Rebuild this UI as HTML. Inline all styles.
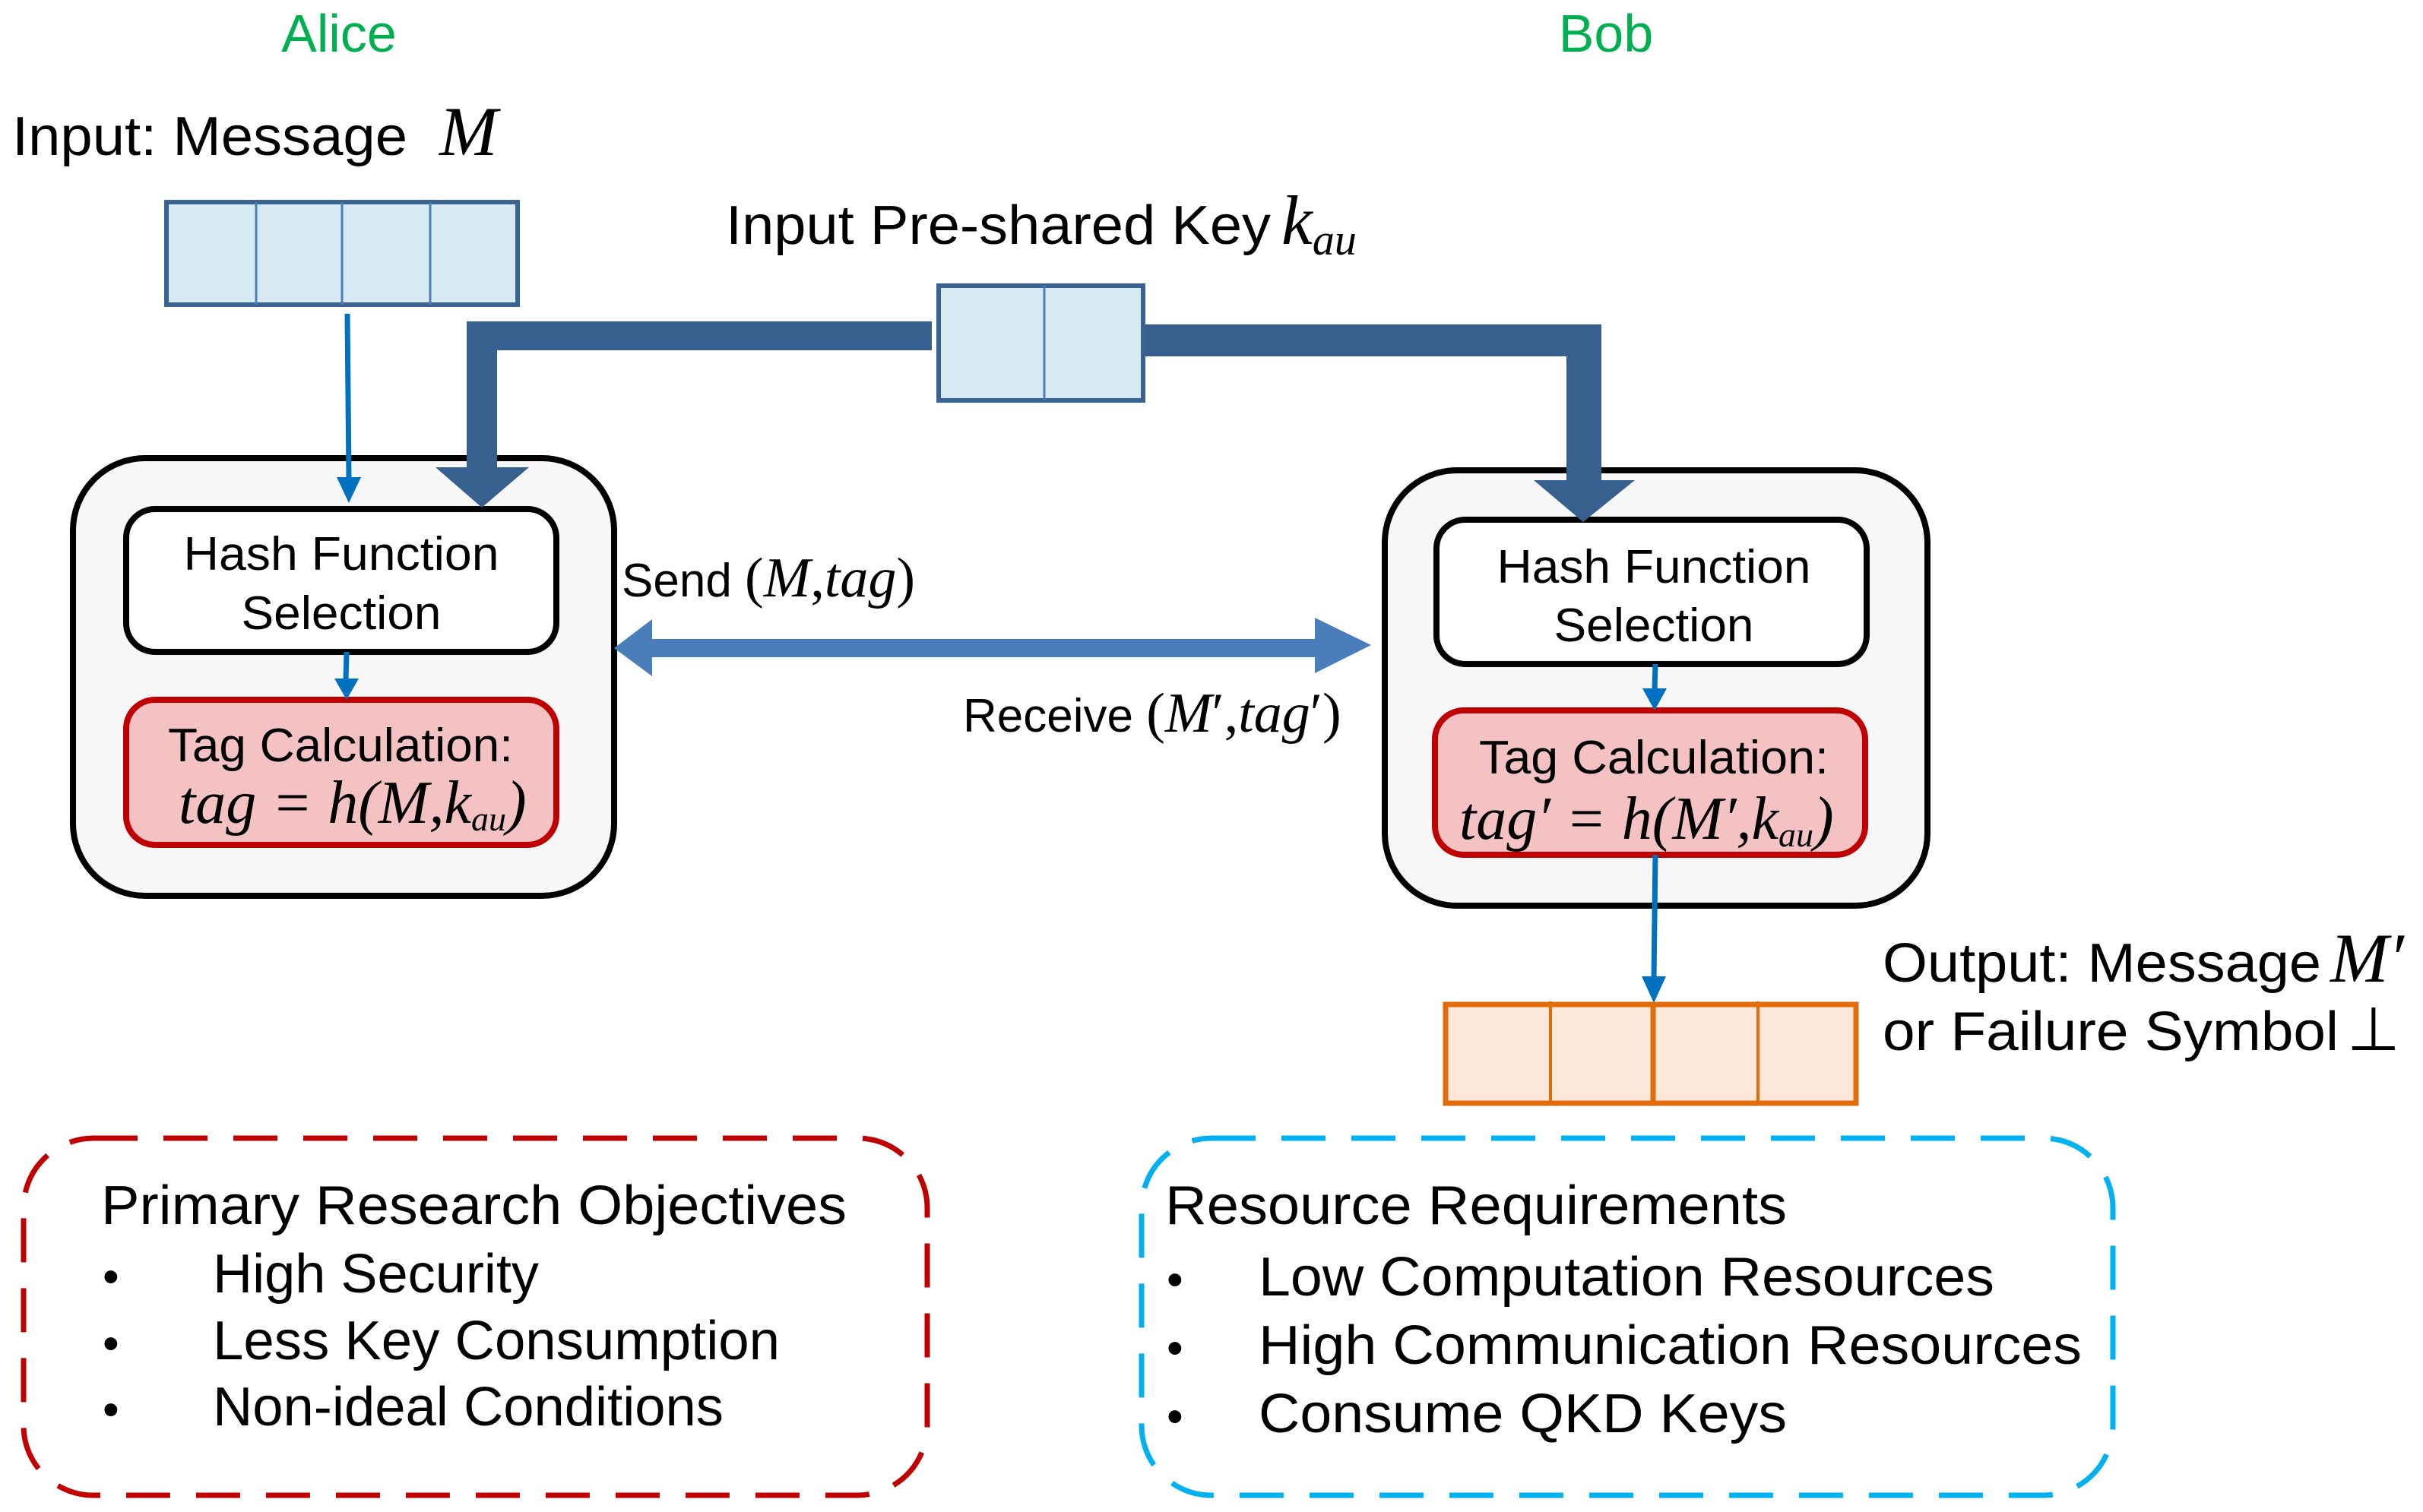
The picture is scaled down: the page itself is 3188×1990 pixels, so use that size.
<!DOCTYPE html>
<html><head><meta charset="utf-8"><style>
html,body{margin:0;padding:0;background:#fff;}
svg{display:block;}
text{font-family:"Liberation Sans",sans-serif;fill:#000;}
.m{font-family:"Liberation Serif",serif;font-style:italic;}
.r{font-family:"Liberation Serif",serif;}
</style></head><body>
<svg width="3188" height="1990" viewBox="0 0 3188 1990" xmlns="http://www.w3.org/2000/svg">
<!-- Titles -->
<text x="446" y="68" font-size="70" style="fill:#00b050" text-anchor="middle">Alice</text>
<text x="2113" y="68" font-size="70" style="fill:#00b050" text-anchor="middle">Bob</text>

<!-- Input message -->
<text x="16" y="204" font-size="72" textLength="520" lengthAdjust="spacingAndGlyphs">Input: Message</text>
<text x="578" y="204" font-size="92" class="m">M</text>
<rect x="219" y="266" width="462" height="135" fill="#d6eaf3" stroke="#3a6394" stroke-width="6"/>
<line x1="337" y1="266" x2="337" y2="401" stroke="#4a7ebb" stroke-width="3"/>
<line x1="450" y1="266" x2="450" y2="401" stroke="#4a7ebb" stroke-width="3"/>
<line x1="566" y1="266" x2="566" y2="401" stroke="#4a7ebb" stroke-width="3"/>

<!-- Pre-shared key -->
<text x="955" y="321" font-size="72" textLength="717" lengthAdjust="spacingAndGlyphs">Input Pre-shared Key</text>
<text x="1686" y="321" font-size="92" class="m">k<tspan font-size="58" dy="14">au</tspan></text>
<rect x="1235" y="376" width="269" height="151" fill="#d6eaf3" stroke="#3a6394" stroke-width="6"/>
<line x1="1374" y1="376" x2="1374" y2="527" stroke="#4a7ebb" stroke-width="3"/>

<!-- Alice box -->
<rect x="96" y="603" width="712" height="576" rx="95" fill="#f7f7f7" stroke="#000" stroke-width="8"/>
<rect x="166" y="670" width="566" height="188" rx="38" fill="#fff" stroke="#000" stroke-width="8"/>
<text x="449" y="750" font-size="62" text-anchor="middle" textLength="415" lengthAdjust="spacingAndGlyphs">Hash Function</text>
<text x="449" y="828" font-size="62" text-anchor="middle" textLength="263" lengthAdjust="spacingAndGlyphs">Selection</text>
<rect x="166" y="921" width="566" height="191" rx="38" fill="#f4c2c2" stroke="#c00000" stroke-width="8"/>
<text x="448" y="1002" font-size="62" text-anchor="middle" textLength="454" lengthAdjust="spacingAndGlyphs">Tag Calculation:</text>
<text x="235" y="1083" font-size="80" class="m">tag<tspan class="r"> =  </tspan>h<tspan class="r">(</tspan>M<tspan class="r">,</tspan>k<tspan font-size="46" dy="10">au</tspan><tspan class="r" dy="-10">)</tspan></text>

<!-- Alice thin arrows -->
<line x1="457" y1="413" x2="459" y2="630" stroke="#0070c0" stroke-width="7"/>
<polygon points="443,628 475,628 459,662" fill="#0070c0"/>
<line x1="456" y1="858" x2="455" y2="895" stroke="#0070c0" stroke-width="7"/>
<polygon points="440,893 472,893 456,921" fill="#0070c0"/>

<!-- Bob box -->
<rect x="1822" y="619" width="714" height="573" rx="95" fill="#f7f7f7" stroke="#000" stroke-width="8"/>
<rect x="1890" y="684" width="566" height="190" rx="38" fill="#fff" stroke="#000" stroke-width="8"/>
<text x="2176" y="767" font-size="62" text-anchor="middle" textLength="413" lengthAdjust="spacingAndGlyphs">Hash Function</text>
<text x="2176" y="844" font-size="62" text-anchor="middle" textLength="263" lengthAdjust="spacingAndGlyphs">Selection</text>
<rect x="1888" y="935" width="566" height="190" rx="38" fill="#f4c2c2" stroke="#c00000" stroke-width="8"/>
<text x="2176" y="1018" font-size="62" text-anchor="middle" textLength="460" lengthAdjust="spacingAndGlyphs">Tag Calculation:</text>
<text x="1920" y="1104" font-size="80" class="m">tag<tspan class="r">′ =  </tspan>h<tspan class="r">(</tspan>M<tspan class="r">′,</tspan>k<tspan font-size="46" dy="10">au</tspan><tspan class="r" dy="-10">)</tspan></text>

<line x1="2178" y1="874" x2="2177" y2="908" stroke="#0070c0" stroke-width="7"/>
<polygon points="2161,906 2193,906 2177,935" fill="#0070c0"/>
<line x1="2178" y1="1125" x2="2176" y2="1290" stroke="#0070c0" stroke-width="7"/>
<polygon points="2160,1285 2192,1285 2176,1320" fill="#0070c0"/>

<!-- thick key lines (on top) -->
<polygon points="1226,423 614,423 614,615 573,615 634,668 696,615 654,615 654,461 1226,461" fill="#37608f"/>
<polygon points="1507,427 2107,427 2107,632 2151,632 2083,687 2018,632 2061,632 2061,469 1507,469" fill="#37608f"/>

<!-- Output box -->
<rect x="1902" y="1322" width="540" height="130" fill="#fce8da" stroke="#e36c0a" stroke-width="7"/>
<line x1="2040" y1="1318" x2="2040" y2="1452" stroke="#e36c0a" stroke-width="4"/>
<line x1="2175" y1="1322" x2="2175" y2="1452" stroke="#e36c0a" stroke-width="7"/>
<line x1="2313" y1="1318" x2="2313" y2="1452" stroke="#e36c0a" stroke-width="4"/>
<text x="2477" y="1292" font-size="72" textLength="577" lengthAdjust="spacingAndGlyphs">Output: Message</text>
<text x="3066" y="1292" font-size="92" class="m">M<tspan class="r">′</tspan></text>
<text x="2477" y="1382" font-size="72" textLength="600" lengthAdjust="spacingAndGlyphs">or Failure Symbol</text>
<text x="3088" y="1382" font-size="80" class="r">⊥</text>

<!-- Double arrow -->
<polygon points="808,853 858,815 858,841 1730,841 1730,813 1804,849 1730,886 1730,865 858,865 858,890" fill="#4a7ebb"/>
<text x="818" y="785" font-size="62">Send <tspan class="r" font-size="74">(</tspan><tspan class="m" font-size="74">M</tspan><tspan class="r" font-size="74">,</tspan><tspan class="m" font-size="74">tag</tspan><tspan class="r" font-size="74">)</tspan></text>
<text x="1267" y="963" font-size="62">Receive <tspan class="r" font-size="74">(</tspan><tspan class="m" font-size="74">M</tspan><tspan class="r" font-size="74">′,</tspan><tspan class="m" font-size="74">tag</tspan><tspan class="r" font-size="74">′)</tspan></text>

<!-- Dashed boxes -->
<rect x="31" y="1498" width="1189" height="470" rx="92" fill="none" stroke="#c00000" stroke-width="7" stroke-dasharray="58 34"/>
<rect x="1502" y="1498" width="1278" height="470" rx="92" fill="none" stroke="#00b0f0" stroke-width="7" stroke-dasharray="58 34"/>

<text x="133" y="1611" font-size="72" textLength="981" lengthAdjust="spacingAndGlyphs">Primary Research Objectives</text>
<text x="135" y="1701" font-size="62">•</text>
<text x="280" y="1701" font-size="72" textLength="429" lengthAdjust="spacingAndGlyphs">High Security</text>
<text x="135" y="1789" font-size="62">•</text>
<text x="280" y="1789" font-size="72" textLength="746" lengthAdjust="spacingAndGlyphs">Less Key Consumption</text>
<text x="135" y="1876" font-size="62">•</text>
<text x="280" y="1876" font-size="72" textLength="672" lengthAdjust="spacingAndGlyphs">Non-ideal Conditions</text>

<text x="1533" y="1611" font-size="72" textLength="818" lengthAdjust="spacingAndGlyphs">Resource Requirements</text>
<text x="1535" y="1705" font-size="62">•</text>
<text x="1656" y="1705" font-size="72" textLength="968" lengthAdjust="spacingAndGlyphs">Low Computation Resources</text>
<text x="1535" y="1795" font-size="62">•</text>
<text x="1656" y="1795" font-size="72" textLength="1083" lengthAdjust="spacingAndGlyphs">High Communication Resources</text>
<text x="1535" y="1885" font-size="62">•</text>
<text x="1656" y="1885" font-size="72" textLength="695" lengthAdjust="spacingAndGlyphs">Consume QKD Keys</text>
</svg>
</body></html>
